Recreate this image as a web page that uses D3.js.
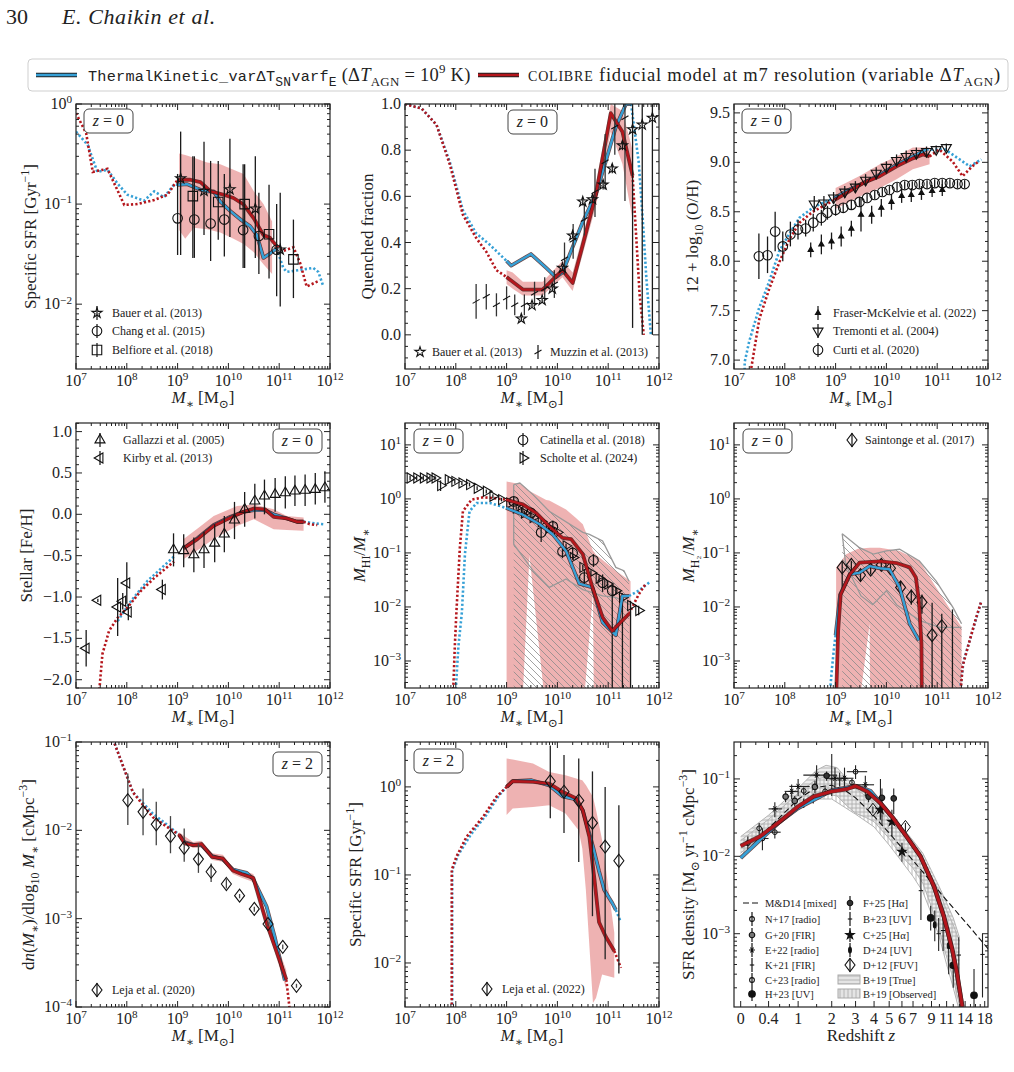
<!DOCTYPE html>
<html><head><meta charset="utf-8">
<script src="https://cdn.jsdelivr.net/npm/d3@7"></script>
<style>
body{margin:0;background:#fff;}
text{font-family:'Liberation Serif','DejaVu Serif',serif;fill:#222;}
</style></head><body>
<script>
// ---------------- data (x = log10 M*, unless noted) ----------------
// panel 1: specific SFR, z=0
var ssfrBlueDot = [[7.0,0.53],[7.23,0.39],[7.42,0.21],[7.62,0.22],[7.82,0.16],[8.01,0.124],[8.34,0.108],[8.54,0.134],[8.73,0.117],[8.93,0.156],[9.0,0.156]];
var ssfrBlue = [[9.0,0.156],[9.19,0.158],[9.45,0.139],[9.58,0.134],[9.71,0.134],[9.84,0.106],[10.04,0.085],[10.24,0.07],[10.43,0.06],[10.56,0.049],[10.69,0.029],[10.82,0.032],[10.95,0.036]];
var ssfrBlueDot2 = [[10.95,0.036],[11.08,0.023],[11.15,0.021],[11.67,0.023],[11.77,0.021],[11.87,0.015]];
var ssfrRedDot = [[7.0,0.81],[7.2,0.51],[7.33,0.21],[7.62,0.225],[7.95,0.098],[8.21,0.1],[8.54,0.11],[8.8,0.124],[9.0,0.175]];
var ssfrRed = [[9.0,0.175],[9.25,0.175],[9.45,0.166],[9.65,0.134],[9.91,0.124],[10.1,0.115],[10.3,0.099],[10.5,0.072],[10.69,0.049],[10.82,0.046],[10.95,0.038]];
var ssfrRedDot2 = [[10.95,0.038],[11.08,0.034],[11.28,0.037],[11.41,0.026],[11.54,0.015],[11.77,0.017]];
var ssfrBand = [[9.03,0.32,0.055],[9.15,0.31,0.045],[9.32,0.29,0.058],[9.58,0.26,0.056],[9.84,0.25,0.052],[10.1,0.22,0.045],[10.3,0.2,0.04],[10.5,0.134,0.033],[10.69,0.1,0.025],[10.86,0.067,0.02]];
var bauerSsfr = [[9.06,0.18,0.031,0.53],[9.52,0.135,0.049,0.42],[10.03,0.14,0.047,0.45],[10.53,0.09,0.029,0.30],[11.02,0.035,0.0095,0.13]];
var changSsfr = [[9.0,0.072,0.031,0.2],[9.33,0.07,0.029,0.3],[9.65,0.064,0.027,0.27],[9.92,0.07,0.03,0.2],[10.29,0.055,0.023,0.25],[10.6,0.048,0.02,0.13],[10.95,0.035,0.012,0.1]];
var belfioreSsfr = [[9.3,0.12,0.029,0.3],[9.8,0.105,0.044,0.27],[10.32,0.1,0.023,0.25],[10.8,0.05,0.018,0.156],[11.28,0.028,0.0115,0.07]];

// panel 2: quenched fraction, z=0
var qfBlueDot = [[7.0,1.0],[7.33,0.98],[7.62,0.91],[7.88,0.75],[8.14,0.54],[8.4,0.44],[8.67,0.39],[9.0,0.32]];
var qfBlue = [[9.0,0.32],[9.09,0.3],[9.48,0.35],[9.78,0.29],[9.97,0.25],[10.1,0.27],[10.3,0.38],[10.5,0.49],[10.76,0.61],[10.95,0.75],[11.15,0.9],[11.35,1.0],[11.45,1.0]];
var qfBlueDot2 = [[11.45,1.0],[11.6,0.75],[11.68,0.5],[11.75,0.25],[11.84,0.0]];
var qfRedDot = [[7.0,1.0],[7.33,0.98],[7.62,0.91],[7.88,0.74],[8.14,0.52],[8.4,0.42],[8.6,0.36],[8.8,0.28],[9.0,0.25]];
var qfRed = [[9.0,0.25],[9.12,0.23],[9.32,0.196],[9.71,0.196],[10.1,0.28],[10.3,0.225],[10.5,0.39],[10.76,0.61],[11.05,0.96],[11.28,0.88],[11.48,0.69]];
var qfRedDot2 = [[11.48,0.69],[11.55,0.43],[11.62,0.17],[11.7,0.0]];
var qfBand = [[9.0,0.28,0.22],[9.12,0.27,0.2],[9.32,0.23,0.17],[9.71,0.23,0.17],[10.1,0.32,0.25],[10.3,0.27,0.19],[10.5,0.43,0.35],[10.76,0.66,0.56],[11.05,1.0,0.88],[11.28,0.97,0.74],[11.48,0.8,0.5]];
var bauerQf = [[9.29,0.07,0.06,0.08],[9.5,0.128,0.12,0.14],[9.7,0.15,0.14,0.16],[9.9,0.2,0.19,0.21],[10.1,0.29,0.28,0.3],[10.3,0.43,0.42,0.44],[10.5,0.577,0.56,0.59],[10.69,0.587,0.57,0.6],[10.9,0.65,0.63,0.67],[11.08,0.72,0.7,0.74],[11.28,0.82,0.8,0.84],[11.48,0.89,0.03,1.05],[11.67,0.91,0.0,1.05],[11.87,0.94,0.0,1.05]];
var muzzinQf = [[8.4,0.145,0.07,0.22],[8.6,0.167,0.11,0.22],[8.8,0.13,0.08,0.18],[9.0,0.16,0.11,0.21],[9.16,0.13,0.085,0.175],[9.35,0.13,0.085,0.175],[9.55,0.18,0.13,0.23],[9.75,0.2,0.15,0.25],[9.94,0.22,0.16,0.28],[10.14,0.33,0.26,0.4],[10.31,0.41,0.33,0.48],[10.53,0.5,0.43,0.57],[10.74,0.62,0.51,0.72],[10.94,0.75,0.63,0.87],[11.13,0.9,0.78,1.0],[11.33,0.94,0.58,1.0]];

// panel 3: gas metallicity 12+log(O/H), z=0
var ohBlueDot = [[7.21,6.9],[7.21,6.98],[7.3,7.19],[7.49,7.52],[7.69,7.79],[7.89,8.1],[8.08,8.27],[8.29,8.44],[8.55,8.54],[8.75,8.59],[8.98,8.64]];
var ohBlue = [[8.98,8.64],[9.21,8.71],[9.54,8.79],[9.87,8.875],[10.2,8.976],[10.52,9.06],[10.79,9.13]];
var ohBlueDot2 = [[10.79,9.13],[11.16,9.13],[11.44,9.03],[11.64,8.96],[11.87,9.03]];
var ohRedDot = [[7.34,6.92],[7.5,7.42],[7.7,7.73],[7.9,8.0],[8.1,8.23],[8.29,8.39],[8.55,8.5],[8.98,8.62]];
var ohRed = [[8.98,8.62],[9.21,8.69],[9.54,8.79],[9.87,8.86],[10.2,8.96],[10.52,9.04],[10.72,9.08],[10.85,9.06]];
var ohRedDot2 = [[10.85,9.06],[11.04,9.13],[11.3,9.01],[11.5,8.86],[11.69,8.96],[11.82,9.01]];
var ohBand = [[9.0,8.74,8.53],[9.2,8.79,8.58],[9.5,8.87,8.66],[9.87,8.98,8.74],[10.2,9.06,8.83],[10.52,9.15,8.93],[10.85,9.15,8.98]];
var fraserOh = [[8.51,8.115,8.04,8.19],[8.72,8.17,8.07,8.27],[8.92,8.2,8.12,8.29],[9.11,8.25,8.15,8.35],[9.31,8.33,8.25,8.41],[9.5,8.47,8.3,8.64],[9.71,8.47,8.38,8.56],[9.9,8.54,8.45,8.63],[10.1,8.6,8.52,8.68],[10.3,8.66,8.59,8.73],[10.49,8.67,8.6,8.74],[10.69,8.69,8.62,8.76],[10.9,8.71,8.65,8.77],[11.1,8.72,8.66,8.78]];
var tremontiOh = [[8.58,8.58,8.5,8.66],[8.77,8.59,8.52,8.66],[8.96,8.64,8.58,8.7],[9.18,8.7,8.64,8.76],[9.39,8.75,8.69,8.81],[9.59,8.82,8.76,8.88],[9.8,8.89,8.83,8.95],[10.0,8.95,8.89,9.01],[10.2,9.02,8.96,9.08],[10.39,9.06,9.0,9.12],[10.59,9.09,9.03,9.15],[10.79,9.11,9.06,9.16],[10.98,9.13,9.09,9.17],[11.18,9.15,9.11,9.19]];
var curtiOh = [[7.49,8.05,7.82,8.28],[7.66,8.06,7.88,8.25],[7.81,8.3,8.1,8.5],[7.96,8.15,8.0,8.3],[8.11,8.27,8.15,8.4],[8.26,8.32,8.22,8.42],[8.41,8.33,8.25,8.42],[8.56,8.39,8.3,8.48],[8.72,8.44,8.36,8.52],[8.84,8.49,8.42,8.56],[9.0,8.52,8.46,8.58],[9.15,8.54,8.49,8.59],[9.31,8.57,8.52,8.62],[9.47,8.6,8.55,8.65],[9.62,8.64,8.6,8.68],[9.77,8.67,8.63,8.71],[9.92,8.7,8.66,8.74],[10.06,8.72,8.68,8.76],[10.21,8.75,8.71,8.79],[10.36,8.77,8.73,8.81],[10.51,8.77,8.73,8.81],[10.65,8.78,8.74,8.82],[10.8,8.78,8.74,8.82],[10.95,8.79,8.75,8.83],[11.1,8.79,8.75,8.83],[11.25,8.79,8.75,8.83],[11.4,8.78,8.74,8.82],[11.54,8.78,8.74,8.82]];

// panel 4: stellar [Fe/H], z=0
var feBlueDot = [[7.82,-1.29],[8.08,-1.05],[8.4,-0.81],[8.93,-0.51]];
var feRedDot = [[7.46,-2.12],[7.52,-1.69],[7.65,-1.41],[7.82,-1.25],[8.01,-1.13],[8.27,-0.93],[8.54,-0.77],[8.93,-0.57]];
var feBlue = [[9.12,-0.41],[9.39,-0.29],[9.71,-0.13],[10.04,-0.03],[10.3,0.03],[10.5,0.05],[10.72,0.05],[10.89,0.0],[11.15,-0.05],[11.35,-0.09],[11.48,-0.09]];
var feRed = [[9.12,-0.41],[9.39,-0.3],[9.71,-0.14],[10.04,-0.04],[10.3,0.03],[10.5,0.07],[10.72,0.06],[10.89,-0.03],[11.15,-0.05],[11.35,-0.09],[11.48,-0.09]];
var feBlueDot2 = [[11.48,-0.09],[11.7,-0.11],[11.87,-0.12]];
var feRedDot2 = [[11.48,-0.09],[11.6,-0.12],[11.75,-0.13]];
var feBand = [[9.12,-0.3,-0.54],[9.4,-0.17,-0.43],[9.71,-0.02,-0.3],[10.17,0.1,-0.14],[10.5,0.12,-0.06],[10.89,0.06,-0.18],[11.15,-0.02,-0.19],[11.48,-0.04,-0.2]];
var gallazziFe = [[8.92,-0.43,-0.63,-0.23],[9.12,-0.44,-0.64,-0.24],[9.32,-0.49,-0.7,-0.28],[9.52,-0.43,-0.65,-0.21],[9.73,-0.35,-0.58,-0.12],[9.92,-0.24,-0.46,-0.02],[10.12,-0.07,-0.3,0.15],[10.32,0.06,-0.15,0.27],[10.52,0.16,-0.05,0.37],[10.71,0.22,0.0,0.42],[10.92,0.24,0.03,0.44],[11.12,0.26,0.07,0.46],[11.31,0.28,0.1,0.47],[11.51,0.29,0.1,0.48],[11.71,0.3,0.12,0.5],[11.9,0.32,0.14,0.52]];
var kirbyFe = [[7.2,-1.62,-1.84,-1.4],[7.43,-1.04,-1.06,-1.02],[7.82,-1.12,-1.47,-0.77],[7.92,-1.05,-1.15,-0.95],[8.0,-0.83,-1.08,-0.58],[8.03,-1.18,-1.28,-1.08],[8.7,-0.91,-1.03,-0.79]];

// panel 5: HI fraction, z=0
var hiBlueDot = [[8.0,3e-4],[8.05,0.0018],[8.12,0.008],[8.18,0.095],[8.27,0.59],[8.41,0.84],[8.67,0.84],[8.99,0.68]];
var hiBlue = [[8.99,0.68],[9.32,0.51],[9.65,0.34],[9.91,0.22],[10.17,0.109],[10.43,0.027],[10.69,0.023],[10.89,0.0052],[11.15,0.003],[11.28,0.016],[11.41,0.016]];
var hiBlueDot2 = [[11.41,0.016],[11.6,0.02],[11.84,0.03]];
var hiRedDot = [[7.95,3e-4],[7.98,0.0018],[8.01,0.0074],[8.08,0.126],[8.14,0.59],[8.31,0.97],[8.54,1.07],[8.73,1.04],[8.99,0.97]];
var hiRed = [[8.99,0.97],[9.32,0.79],[9.58,0.55],[9.84,0.31],[10.1,0.19],[10.27,0.18],[10.5,0.095],[10.69,0.023],[10.89,0.0064],[11.08,0.0036],[11.41,0.0075]];
var hiRedDot2 = [[11.41,0.0075],[11.6,0.017],[11.74,0.027]];
var hiBand = [[9.0,2.1,1e-4],[9.3,1.84,1e-4],[9.45,1.4,0.09],[9.78,0.95,1e-4],[9.84,0.93,1e-4],[10.17,0.64,1e-4],[10.36,0.45,1e-4],[10.5,0.34,1e-4],[10.7,0.11,0.018],[10.72,0.105,1e-4],[10.75,0.095,1e-4],[11.15,0.047,1e-4],[11.44,0.03,1e-4]];
var hiHatch = [[9.14,1.84,1e-4],[9.26,1.97,1e-4],[9.52,1.2,1e-4],[9.84,0.59,1e-4],[10.5,0.24,1e-4],[10.63,0.22,1e-4],[10.89,0.166,1e-4],[11.15,0.054,1e-4],[11.31,0.047,1e-4],[11.41,0.03,1e-4]];
var hiHatchLow = [[9.14,1.84],[9.14,0.145],[9.52,0.047],[9.84,0.023],[10.17,0.033],[10.5,0.021],[10.89,0.016],[11.15,0.015],[11.44,0.011]];
var catinellaHi = [[9.14,0.9,0.75,1.08],[9.32,0.64,0.52,0.78],[9.48,0.55,0.45,0.67],[9.68,0.24,0.16,0.34],[9.91,0.31,0.24,0.4],[10.1,0.106,0.08,0.14],[10.3,0.1,0.075,0.13],[10.53,0.035,0.025,0.05],[10.71,0.073,0.055,0.095],[10.89,0.028,0.019,0.04],[11.08,0.02,1e-4,0.028]];
var scholteHi = [[7.1,2.43,2.2,2.7],[7.23,2.43,2.2,2.7],[7.36,2.43,2.2,2.7],[7.49,2.43,2.2,2.7],[7.59,2.43,2.2,2.7],[7.7,1.76,1.4,2.2],[7.85,2.27,2.0,2.55],[7.98,2.11,1.9,2.35],[8.12,1.97,1.8,2.15],[8.27,1.84,1.7,2.0],[8.42,1.58,1.45,1.72],[8.6,1.38,1.26,1.5],[8.73,1.12,1.02,1.22],[8.9,0.97,0.9,1.05],[9.06,0.84,0.78,0.9],[9.19,0.68,0.63,0.73],[9.35,0.55,0.51,0.6],[9.52,0.45,0.42,0.49],[9.68,0.38,0.35,0.41],[9.84,0.29,0.27,0.31],[10.0,0.24,0.22,0.26],[10.17,0.135,0.12,0.15],[10.31,0.082,0.074,0.09],[10.5,0.054,0.048,0.06],[10.66,0.043,0.038,0.048],[10.82,0.034,0.03,0.038],[10.99,0.0265,0.023,0.03],[11.15,0.02,0.017,0.023],[11.28,0.015,1e-4,0.018],[11.44,0.0106,1e-4,0.013],[11.6,0.0086,0.007,0.0105]];

// panel 6: H2 fraction, z=0
var h2BlueDot = [[8.88,2e-4],[8.92,6e-4],[8.97,0.0018],[9.0,0.003]];
var h2Blue = [[9.0,0.003],[9.09,0.017],[9.28,0.04],[9.47,0.043],[9.67,0.057],[9.87,0.052],[10.06,0.05],[10.26,0.023],[10.46,0.0048],[10.64,0.0024]];
var h2BlueDot2 = [[11.43,2e-4],[11.52,0.001],[11.67,0.003],[11.86,0.012]];
var h2Red = [[9.0,1e-4],[9.05,0.0037],[9.1,0.017],[9.28,0.04],[9.47,0.066],[9.87,0.07],[10.2,0.065],[10.46,0.054],[10.58,0.035],[10.64,0.013],[10.69,0.0021],[10.7,1e-4]];
var h2RedDot2 = [[11.45,2e-4],[11.5,8e-4],[11.64,0.0024],[11.77,0.0065],[11.86,0.012]];
var h2Band = [[9.01,0.054,1e-4],[9.21,0.095,1e-4],[9.44,0.12,1e-4],[9.67,0.125,0.0049],[9.68,0.125,1e-4],[9.87,0.125,1e-4],[10.26,0.109,1e-4],[10.65,0.071,1e-4],[10.98,0.023,1e-4],[11.31,0.0075,1e-4],[11.48,0.0042,1e-4]];
var h2Hatch = [[9.13,0.227,1e-4],[9.47,0.125,1e-4],[9.74,0.095,1e-4],[10.0,0.109,1e-4],[10.26,0.117,1e-4],[10.65,0.071,1e-4],[10.98,0.03,1e-4],[11.31,0.0098,1e-4],[11.48,0.0049,1e-4]];
var h2HatchLow = [[9.13,0.227],[9.2,0.06],[9.5,0.016],[9.73,0.011],[10.0,0.02],[10.2,0.011],[10.66,0.0056],[11.05,0.0042],[11.48,0.0042]];
var saintongeH2 = [[9.13,0.054,0.02,0.071],[9.31,0.06,0.045,0.072],[9.49,0.039,0.03,0.05],[9.69,0.049,0.04,0.058],[9.9,0.06,0.05,0.07],[10.08,0.052,0.043,0.062],[10.28,0.023,0.017,0.03],[10.49,0.0155,0.011,0.021],[10.7,0.0122,0.0075,0.017],[10.9,0.003,1e-4,0.012],[11.09,0.0044,1e-4,0.0075],[11.3,1e-4,1e-4,0.009]];

// panel 7: stellar mass function, z=2
var smfBlueDot = [[7.76,0.096],[8.12,0.027],[8.51,0.0155],[8.84,0.011],[9.03,0.0089]];
var smfRedDot = [[7.76,0.096],[8.12,0.027],[8.51,0.0141],[8.84,0.0105],[9.03,0.0089]];
var smfBlue = [[9.03,0.0089],[9.14,0.0073],[9.3,0.0069],[9.47,0.0068],[9.68,0.0051],[9.89,0.0047],[10.09,0.0036],[10.36,0.0033],[10.49,0.0028],[10.75,0.00138],[10.91,0.00063],[11.11,0.0002]];
var smfRed = [[9.03,0.0089],[9.14,0.0071],[9.3,0.0068],[9.47,0.007],[9.68,0.005],[9.89,0.0048],[10.09,0.0035],[10.26,0.0032],[10.49,0.0029],[10.75,0.00089],[10.91,0.00049],[11.14,0.000204]];
var smfRedDot2 = [[11.14,0.000204],[11.21,9e-5]];
var smfBand = [[9.03,0.0095,0.0083],[9.3,0.0074,0.0063],[9.47,0.0076,0.0064],[9.68,0.0055,0.0046],[9.89,0.0053,0.0044],[10.09,0.0038,0.0032],[10.26,0.0035,0.0029],[10.49,0.0032,0.0026],[10.75,0.0011,0.0008],[10.91,0.0006,0.00042],[11.14,0.00026,0.00016]];
var lejaSmf = [[8.02,0.0219,0.0115,0.044],[8.32,0.0162,0.0088,0.0297],[8.58,0.0117,0.0068,0.021],[8.86,0.0086,0.0055,0.0145],[9.13,0.00635,0.0044,0.0105],[9.41,0.00473,0.0033,0.0071],[9.66,0.0034,0.0026,0.0042],[9.96,0.00247,0.0022,0.0028],[10.22,0.00182,0.0017,0.0019],[10.51,0.00129,0.0012,0.00136],[10.78,0.00087,0.00082,0.00092],[11.07,0.00048,0.00045,0.00051],[11.34,0.000174,0.000165,0.000183]];

// panel 8: specific SFR, z=2
var ssfr2BlueDot = [[7.93,0.003],[7.93,0.114],[8.05,0.17],[8.3,0.29],[8.6,0.48],[8.85,0.8],[9.0,1.0]];
var ssfr2RedDot = [[7.92,0.003],[7.92,0.114],[8.01,0.16],[8.21,0.27],[8.54,0.46],[8.8,0.77],[9.0,1.0]];
var ssfr2Blue = [[9.0,1.0],[9.12,1.16],[9.49,1.19],[9.84,1.04],[10.1,0.78],[10.37,0.72],[10.5,0.54],[10.7,0.21],[10.82,0.11],[10.92,0.068],[11.08,0.048],[11.15,0.04]];
var ssfr2BlueDot2 = [[11.15,0.04],[11.25,0.029]];
var ssfr2Red = [[9.0,1.0],[9.12,1.16],[9.52,1.14],[9.84,1.09],[10.1,0.88],[10.37,0.74],[10.5,0.54],[10.63,0.27],[10.73,0.088],[10.82,0.029],[10.95,0.02],[11.12,0.0137]];
var ssfr2RedDot2 = [[11.12,0.0137],[11.25,0.0088]];
var ssfr2Band = [[9.0,2.1,0.48],[9.12,2.05,0.57],[9.52,1.84,0.59],[9.84,1.48,0.62],[10.16,1.36,0.5],[10.42,1.22,0.32],[10.49,1.19,0.2],[10.56,1.05,0.068],[10.7,0.77,0.0035],[10.76,0.55,0.004],[10.88,0.25,0.0074],[11.12,0.022,0.0068]];
var lejaSsfr = [[9.86,1.16,0.44,2.96],[10.13,0.88,0.3,2.3],[10.42,0.7,0.14,2.1],[10.69,0.39,0.034,1.5],[10.94,0.21,0.011,1.0],[11.21,0.145,0.0076,0.62]];

// panel 9: cosmic SFR density vs redshift z
var sfrdZTicks = [0,0.4,1,2,3,4,5,6,7,9,11,14,18];
var sfrdBlue = [[0,0.0095],[0.21,0.0148],[0.6,0.028],[1.0,0.042],[2.0,0.071],[3.0,0.081],[3.78,0.07],[4.4,0.049],[5.3,0.031],[6.4,0.018],[7.75,0.01],[9.3,0.0041],[10.6,0.0017],[11.85,0.00062],[12.6,0.0003],[13.5,0.000115]];
var sfrdRed = [[0,0.0136],[0.26,0.018],[0.6,0.028],[1.0,0.044],[1.4,0.059],[2.0,0.069],[2.6,0.074],[3.0,0.081],[3.6,0.069],[4.4,0.0485],[5.3,0.031],[6.4,0.018],[7.75,0.01],[9.3,0.0041],[10.6,0.00167],[11.85,0.00062],[12.6,0.00031],[13.5,0.000113]];
var md14Z = [0,0.4,1,1.5,2,2.5,3,4,5,6,7,8,9,11,14,18,19];
var md14Sfrd = [0.0095,0.023,0.0546,0.078,0.083,0.072,0.057,0.033,0.02,0.0129,0.0088,0.0063,0.0046,0.0027,0.00143,0.00072,0.00062];
var b19True = [[0,0.018,0.011],[0.4,0.034,0.022],[1,0.076,0.045],[1.5,0.13,0.06],[1.8,0.15,0.065],[2.2,0.14,0.06],[2.6,0.1,0.045],[3,0.085,0.036],[3.5,0.07,0.032],[4,0.058,0.028],[5,0.036,0.017],[6,0.024,0.01],[7,0.016,0.007],[8,0.011,0.0045],[9,0.0065,0.0022],[10,0.004,0.0011],[11,0.0025,0.0005],[12,0.0016,0.00026],[13,0.0009,0.00012]];
var b19Obs = [[0,0.016,0.01],[0.4,0.03,0.02],[1,0.065,0.04],[1.5,0.1,0.055],[2,0.11,0.055],[3,0.075,0.035],[4,0.05,0.024],[5,0.03,0.014],[6,0.02,0.0085],[7,0.013,0.0055],[8,0.009,0.0035],[9,0.0055,0.0018],[10,0.0035,0.0009],[11,0.002,0.0004],[12,0.0013,0.0002],[13,0.0008,0.0001]];
// [z, sfrd, lo, hi, zlo, zhi]
var n17 = [[0.3,0.017,0.012,0.023,0.2,0.4],[0.51,0.0205,0.017,0.025,0.42,0.62],[3.0,0.124,0.1,0.15,2.6,3.6]];
var g20 = [[0.72,0.059,0.05,0.068],[0.92,0.052,0.044,0.06],[1.45,0.079,0.065,0.095]];
var e22 = [[0.51,0.041,0.032,0.05,0.4,0.65],[0.85,0.069,0.055,0.085,0.7,1.0],[1.0,0.08,0.06,0.1,0.8,1.3],[1.5,0.112,0.08,0.15,1.13,2.2],[2.12,0.102,0.07,0.14,1.8,2.5],[2.5,0.102,0.07,0.14,2.2,2.9],[3.5,0.084,0.06,0.11,3.0,4.0]];
var k21 = [[1.14,0.049,0.042,0.056],[1.4,0.056,0.048,0.065],[2.0,0.1,0.06,0.21],[2.3,0.097,0.08,0.12],[4.4,0.057,0.03,0.1]];
var c23 = [[0.09,0.0148,0.012,0.018],[0.25,0.023,0.019,0.027],[1.14,0.07,0.062,0.078],[1.77,0.069,0.06,0.078],[2.83,0.09,0.08,0.1]];
var h23 = [[8.9,0.0016,0.0011,0.0023],[12.0,0.00039,0.0002,0.0006],[15.7,0.00016,0.00008,0.00035]];
var f25 = [[1.82,0.11,0.095,0.125],[3.68,0.059,0.05,0.07],[4.5,0.057,0.025,0.075],[5.34,0.056,0.035,0.075]];
var b23 = [[7.8,0.0036,0.0015,0.0065],[9.9,0.001,0.0006,0.0016],[10.5,0.0011,0.0006,0.0018],[12.9,0.00053,0.0002,0.0009],[17.5,0.00054,0.00015,0.001]];
var c25 = [[4.4,0.04,0.03,0.05],[5.2,0.028,0.018,0.04],[6.0,0.0115,0.0085,0.015]];
var d24 = [[9.4,0.0013,0.0008,0.002],[11.3,0.0007,0.0003,0.0012]];
var d12 = [[3.93,0.04,0.036,0.044],[6.3,0.024,0.021,0.027]];

// ---------------- layout ----------------
var BLUE = "#36a0d6", RED = "#b5161c", BAND = "#eba4a4";
var mono = "'Liberation Mono','DejaVu Sans Mono',monospace";
var PW = 254, PH = 265;
var colX = [76, 405, 734], rowY = [104, 423, 742];

var svg = d3.select("body").append("svg").attr("width", 1014).attr("height", 1072);
var defs = svg.append("defs");

function hatch(id, path, size, col) {
  defs.append("pattern").attr("id", id).attr("patternUnits", "userSpaceOnUse")
    .attr("width", size).attr("height", size)
    .append("path").attr("d", path).attr("stroke", col).attr("stroke-width", 0.8).attr("fill", "none");
}
hatch("diag", "M0,0 L7,7 M-1,6 L1,8 M6,-1 L8,1", 7, "#8a8a8a");
hatch("horiz", "M0,2 L4,2", 4, "#a8a8a8");
hatch("vert", "M2,0 L2,4", 4, "#a8a8a8");

// rich text: parts {t, i:italic, s:'sub'|'sup', m:mono, f:font-size}
function rich(sel, fs, parts) {
  var cur = 0;
  parts.forEach(function(p) {
    var sh = p.s == "sub" ? fs * 0.28 : (p.s == "sup" ? -fs * 0.42 : 0);
    var ts = sel.append("tspan").attr("dy", sh - cur).text(p.t);
    cur = sh;
    if (p.s) ts.attr("font-size", fs * 0.7);
    if (p.i) ts.attr("font-style", "italic");
    if (p.m) ts.attr("font-family", mono);
    if (p.f) ts.attr("font-size", p.f);
  });
}

function makePanel(c, r, ys, xf) {
  var g = svg.append("g").attr("transform", "translate(" + colX[c] + "," + rowY[r] + ")");
  var id = "clip" + c + r;
  defs.append("clipPath").attr("id", id).append("rect").attr("width", PW).attr("height", PH);
  var P = { g: g, ys: ys };
  P.plot = g.append("g").attr("clip-path", "url(#" + id + ")");
  P.X = xf;
  P.Y = function(v) { return ys(v); };
  return P;
}

var massScale = d3.scaleLog().domain([1e7, 1e12]).range([0, PW]);
function massX(v) { return massScale(Math.pow(10, v)); }
var zScale = d3.scaleLinear().domain([-0.035, 1.296]).range([0, PW]);
function zX(v) { return zScale(Math.log10(1 + v)); }

function powLabel(sel, e) {
  sel.text("10");
  sel.append("tspan").attr("dy", "-0.5em").attr("font-size", "0.7em").text(e < 0 ? "\u2212" + (-e) : e);
}

function logTicks(domain) {
  var major = [], minor = [];
  var lo = Math.min(domain[0], domain[1]), hi = Math.max(domain[0], domain[1]);
  for (var e = Math.floor(Math.log10(lo)); e <= Math.ceil(Math.log10(hi)); e++) {
    var b = Math.pow(10, e);
    if (b >= lo * 0.999 && b <= hi * 1.001) major.push(e);
    for (var k = 2; k < 10; k++) { if (k * b >= lo && k * b <= hi) minor.push(k * b); }
  }
  return { major: major, minor: minor };
}

// ticks on all four sides, pointing in
function drawAxes(P, xt, yt) {
  var g = P.g;
  g.append("rect").attr("width", PW).attr("height", PH).attr("fill", "none").attr("stroke", "#222").attr("stroke-width", 1.2);
  var tk = g.append("g").attr("stroke", "#222").attr("stroke-width", 1);
  xt.major.forEach(function(t) {
    var x = t.x;
    tk.append("line").attr("x1", x).attr("x2", x).attr("y1", PH).attr("y2", PH - 6);
    tk.append("line").attr("x1", x).attr("x2", x).attr("y1", 0).attr("y2", 6);
    var lab = g.append("text").attr("x", x).attr("y", PH + 17).attr("text-anchor", "middle").attr("font-size", 16);
    if (t.e !== undefined) powLabel(lab, t.e); else lab.text(t.label);
  });
  xt.minor.forEach(function(x) {
    tk.append("line").attr("x1", x).attr("x2", x).attr("y1", PH).attr("y2", PH - 3);
    tk.append("line").attr("x1", x).attr("x2", x).attr("y1", 0).attr("y2", 3);
  });
  yt.major.forEach(function(t) {
    var y = t.y;
    tk.append("line").attr("x1", 0).attr("x2", 6).attr("y1", y).attr("y2", y);
    tk.append("line").attr("x1", PW).attr("x2", PW - 6).attr("y1", y).attr("y2", y);
    var lab = g.append("text").attr("x", -4).attr("y", y + 5).attr("text-anchor", "end").attr("font-size", 16);
    if (t.e !== undefined) powLabel(lab, t.e); else lab.text(t.label);
  });
  yt.minor.forEach(function(y) {
    tk.append("line").attr("x1", 0).attr("x2", 3).attr("y1", y).attr("y2", y);
    tk.append("line").attr("x1", PW).attr("x2", PW - 3).attr("y1", y).attr("y2", y);
  });
}

function massTicks() {
  var t = logTicks(massScale.domain());
  return { major: t.major.map(function(e) { return { x: massScale(Math.pow(10, e)), e: e }; }),
           minor: t.minor.map(function(v) { return massScale(v); }) };
}
function logYTicks(ys) {
  var t = logTicks(ys.domain());
  return { major: t.major.map(function(e) { return { y: ys(Math.pow(10, e)), e: e }; }),
           minor: t.minor.map(function(v) { return ys(v); }) };
}
function linYTicks(ys, step, minorStep) {
  var d = ys.domain(), major = [], minor = [];
  d3.range(Math.ceil(d[0] / step - 1e-6) * step, d[1] + 1e-6, step).forEach(function(v) {
    major.push({ y: ys(v), label: d3.format(".1f")(v) });
  });
  d3.range(Math.ceil(d[0] / minorStep - 1e-6) * minorStep, d[1] + 1e-6, minorStep).forEach(function(v) {
    if (Math.abs(v / step - Math.round(v / step)) > 1e-6) minor.push(ys(v));
  });
  return { major: major, minor: minor };
}

function xLabel(P, parts) {
  rich(P.g.append("text").attr("x", PW / 2).attr("y", PH + 34).attr("text-anchor", "middle").attr("font-size", 17), 17, parts);
}
function yLabel(P, dx, parts) {
  rich(P.g.append("text").attr("transform", "translate(" + dx + "," + (PH / 2) + ") rotate(-90)")
    .attr("text-anchor", "middle").attr("font-size", 17), 17, parts);
}
var massLabel = [{ t: "M", i: 1 }, { t: "\u2217", s: "sub" }, { t: " [M" }, { t: "\u2299", s: "sub" }, { t: "]" }];

function zBox(P, x, y, zt) {
  var b = P.g.append("g").attr("transform", "translate(" + x + "," + y + ")");
  b.append("rect").attr("width", 49).attr("height", 24).attr("rx", 5).attr("fill", "#fff").attr("stroke", "#444").attr("stroke-width", 1);
  rich(b.append("text").attr("x", 24.5).attr("y", 17).attr("text-anchor", "middle").attr("font-size", 16), 16,
    [{ t: "z", i: 1 }, { t: " = " + zt }]);
}

function lineGen(P) { return d3.line().x(function(d) { return P.X(d[0]); }).y(function(d) { return P.Y(d[1]); }); }
function solid(P, data, col, w) {
  w = w || 2.4;
  P.plot.append("path").datum(data).attr("d", lineGen(P)).attr("fill", "none")
    .attr("stroke", "#3a0a0a").attr("stroke-opacity", 0.75).attr("stroke-width", w + 1.4).attr("stroke-linejoin", "round");
  P.plot.append("path").datum(data).attr("d", lineGen(P)).attr("fill", "none")
    .attr("stroke", col).attr("stroke-width", w).attr("stroke-linejoin", "round");
}
function dotted(P, data, col) {
  P.plot.append("path").datum(data).attr("d", lineGen(P)).attr("fill", "none")
    .attr("stroke", col).attr("stroke-width", 2.6).attr("stroke-dasharray", "2.2,2.2");
}
function band(P, data, fill, op) {
  P.plot.append("path").datum(data)
    .attr("d", d3.area().x(function(d) { return P.X(d[0]); }).y0(function(d) { return P.Y(d[2]); }).y1(function(d) { return P.Y(d[1]); }))
    .attr("fill", fill).attr("fill-opacity", op === undefined ? 0.85 : op);
}

// marker shapes centred on 0,0
function tri(r, ang) {
  var pts = [0, 1, 2].map(function(k) {
    var a = ang + k * 2 * Math.PI / 3;
    return [r * Math.cos(a), r * Math.sin(a)];
  });
  return "M" + pts.join("L") + "Z";
}
var SYM = {
  star: d3.symbol(d3.symbolStar, 32)(),
  starS: d3.symbol(d3.symbolStar, 22)(),
  circle: d3.symbol(d3.symbolCircle, 72)(),
  circleS: d3.symbol(d3.symbolCircle, 18)(),
  square: d3.symbol(d3.symbolSquare, 90)(),
  triUp: tri(5.8, -Math.PI / 2),
  triDown: tri(5.8, Math.PI / 2),
  triLeft: tri(5.8, Math.PI),
  triRight: tri(5.8, 0),
  smallUp: tri(3, -Math.PI / 2),
  diamond: "M0,-6.5L5,0L0,6.5L-5,0Z",
  tick: "M-3.5,2L3.5,-2",
  asterisk: "M-3,0L3,0M-1.5,-2.6L1.5,2.6M-1.5,2.6L1.5,-2.6",
  plus: "M-2.2,0L2.2,0",
  ellipse: "M0,-3A1.4,3 0 1,1 0,3A1.4,3 0 1,1 0,-3Z",
  bigDot: d3.symbol(d3.symbolCircle, 34)(),
  midDot: d3.symbol(d3.symbolCircle, 24)()
};

// data: [x, y, lo, hi, xlo, xhi]
function points(P, data, sym, o) {
  o = o || {};
  var g = P.plot.append("g");
  data.forEach(function(d) {
    var cx = P.X(d[0]), cy = P.Y(d[1]);
    if (d.length > 2) g.append("line").attr("x1", cx).attr("x2", cx).attr("y1", P.Y(d[2])).attr("y2", P.Y(d[3]))
      .attr("stroke", o.ecol || "#1a1a1a").attr("stroke-width", o.ew || 1.3);
    if (d.length > 4) g.append("line").attr("x1", P.X(d[4])).attr("x2", P.X(d[5])).attr("y1", cy).attr("y2", cy)
      .attr("stroke", o.ecol || "#1a1a1a").attr("stroke-width", o.ew || 1.3);
    g.append("path").attr("transform", "translate(" + cx + "," + cy + ")").attr("d", sym)
      .attr("fill", o.fill || "none").attr("stroke", o.stroke || "#111").attr("stroke-width", o.sw || 1.1);
  });
}
function legendEntry(P, x, y, sym, label, o, fs) {
  o = o || {};
  if (o.bar !== false) P.g.append("line").attr("x1", x).attr("x2", x).attr("y1", y - 7).attr("y2", y + 7).attr("stroke", "#111").attr("stroke-width", 1.2);
  P.g.append("path").attr("transform", "translate(" + x + "," + y + ")").attr("d", sym)
    .attr("fill", o.fill || "none").attr("stroke", o.stroke || "#111").attr("stroke-width", 1.1);
  P.g.append("text").attr("x", x + (o.dx || 15)).attr("y", y + 4).attr("font-size", fs || 12).attr("fill", "#444").text(label);
}

// ---------------- header and top legend ----------------
svg.append("text").attr("x", 6).attr("y", 24).attr("font-size", 22).text("30");
svg.append("text").attr("x", 62).attr("y", 24).attr("font-size", 22).attr("letter-spacing", 0.6).attr("font-style", "italic").text("E. Chaikin et al.");

var topLeg = svg.append("g");
topLeg.append("rect").attr("x", 28).attr("y", 59).attr("width", 980).attr("height", 32).attr("rx", 4)
  .attr("fill", "#fff").attr("stroke", "#cfcfcf");
[[36, BLUE], [478, RED]].forEach(function(s) {
  topLeg.append("line").attr("x1", s[0]).attr("x2", s[0] + 41).attr("y1", 75).attr("y2", 75).attr("stroke", "#222").attr("stroke-width", 4.4);
  topLeg.append("line").attr("x1", s[0]).attr("x2", s[0] + 41).attr("y1", 75).attr("y2", 75).attr("stroke", s[1]).attr("stroke-width", 2.6);
});
rich(topLeg.append("text").attr("x", 88).attr("y", 81).attr("font-size", 18.5).attr("letter-spacing", 0.25), 18.5, [
  { t: "ThermalKinetic_var\u0394T", m: 1, f: 15.2 }, { t: "SN", s: "sub", m: 1 }, { t: "varf", m: 1, f: 15.2 }, { t: "E", s: "sub", m: 1 },
  { t: " (\u0394" }, { t: "T", i: 1 }, { t: "AGN", s: "sub" }, { t: " = 10" }, { t: "9", s: "sup" }, { t: " K)" }]);
rich(topLeg.append("text").attr("x", 528).attr("y", 81).attr("font-size", 18.5).attr("letter-spacing", 0.8), 18.5, [
  { t: "COLIBRE", f: 14 }, { t: " fiducial model at m7 resolution (variable \u0394" }, { t: "T", i: 1 }, { t: "AGN", s: "sub" }, { t: ")" }]);

// ---------------- panel 1 ----------------
var P1 = makePanel(0, 0, d3.scaleLog().domain([2.25e-3, 1]).range([PH, 0]), massX);
band(P1, ssfrBand, BAND);
dotted(P1, ssfrBlueDot, BLUE); dotted(P1, ssfrBlueDot2, BLUE);
dotted(P1, ssfrRedDot, RED); dotted(P1, ssfrRedDot2, RED);
solid(P1, ssfrBlue, BLUE); solid(P1, ssfrRed, RED);
points(P1, bauerSsfr, SYM.star);
points(P1, changSsfr, SYM.circle);
points(P1, belfioreSsfr, SYM.square);
drawAxes(P1, massTicks(), logYTicks(P1.ys));
xLabel(P1, massLabel);
yLabel(P1, -40, [{ t: "Specific SFR [Gyr" }, { t: "\u22121", s: "sup" }, { t: "]" }]);
zBox(P1, 8, 5, "0");
legendEntry(P1, 21, 209, SYM.star, "Bauer et al. (2013)");
legendEntry(P1, 21, 227, SYM.circle, "Chang et al. (2015)");
legendEntry(P1, 21, 246, SYM.square, "Belfiore et al. (2018)");

// ---------------- panel 2 ----------------
var P2 = makePanel(1, 0, d3.scaleLinear().domain([-0.148, 1.0]).range([PH, 0]), massX);
band(P2, qfBand, BAND);
dotted(P2, qfBlueDot, BLUE); dotted(P2, qfBlueDot2, BLUE);
dotted(P2, qfRedDot, RED); dotted(P2, qfRedDot2, RED);
solid(P2, qfBlue, BLUE); solid(P2, qfRed, RED);
points(P2, muzzinQf, SYM.tick, { ecol: "#333" });
points(P2, bauerQf, SYM.star);
drawAxes(P2, massTicks(), linYTicks(P2.ys, 0.2, 0.05));
xLabel(P2, massLabel);
yLabel(P2, -32, [{ t: "Quenched fraction" }]);
zBox(P2, 103, 6, "0");
legendEntry(P2, 15, 248, SYM.star, "Bauer et al. (2013)", { bar: false, dx: 12 });
legendEntry(P2, 133, 248, SYM.tick, "Muzzin et al. (2013)", { dx: 12 });

// ---------------- panel 3 ----------------
var P3 = makePanel(2, 0, d3.scaleLinear().domain([6.91, 9.59]).range([PH, 0]), massX);
band(P3, ohBand, BAND);
dotted(P3, ohBlueDot, BLUE); dotted(P3, ohBlueDot2, BLUE);
dotted(P3, ohRedDot, RED); dotted(P3, ohRedDot2, RED);
solid(P3, ohBlue, BLUE); solid(P3, ohRed, RED);
points(P3, fraserOh, SYM.smallUp, { fill: "#111" });
points(P3, tremontiOh, SYM.triDown);
points(P3, curtiOh, SYM.circle);
drawAxes(P3, massTicks(), linYTicks(P3.ys, 0.5, 0.1));
xLabel(P3, massLabel);
yLabel(P3, -36, [{ t: "12 + log" }, { t: "10", s: "sub" }, { t: " (O/H)" }]);
zBox(P3, 8, 5, "0");
legendEntry(P3, 84, 209, SYM.smallUp, "Fraser-McKelvie et al. (2022)", { fill: "#111" });
legendEntry(P3, 84, 227, SYM.triDown, "Tremonti et al. (2004)");
legendEntry(P3, 84, 246, SYM.circle, "Curti et al. (2020)");

// ---------------- panel 4 ----------------
var P4 = makePanel(0, 1, d3.scaleLinear().domain([-2.1, 1.104]).range([PH, 0]), massX);
band(P4, feBand, BAND);
dotted(P4, feBlueDot, BLUE); dotted(P4, feRedDot, RED);
dotted(P4, feBlueDot2, BLUE); dotted(P4, feRedDot2, RED);
solid(P4, feBlue, BLUE); solid(P4, feRed, RED);
points(P4, gallazziFe, SYM.triUp);
points(P4, kirbyFe, SYM.triLeft);
drawAxes(P4, massTicks(), linYTicks(P4.ys, 0.5, 0.1));
xLabel(P4, massLabel);
yLabel(P4, -44, [{ t: "Stellar [Fe/H]" }]);
zBox(P4, 197, 6, "0");
legendEntry(P4, 24, 17, SYM.triUp, "Gallazzi et al. (2005)", { dx: 23 });
legendEntry(P4, 24, 35, SYM.triLeft, "Kirby et al. (2013)", { dx: 23 });

// ---------------- panel 5 ----------------
var gasY = function() { return d3.scaleLog().domain([Math.pow(10, -3.5), Math.pow(10, 1.405)]).range([PH, 0]); };
var P5 = makePanel(1, 1, gasY(), massX);
band(P5, hiBand, BAND);
band(P5, hiHatch, "url(#diag)", 1);
P5.plot.append("path").datum(hiHatch).attr("d", lineGen(P5)).attr("fill", "none").attr("stroke", "#999").attr("stroke-width", 1.3);
P5.plot.append("path").datum(hiHatchLow).attr("d", lineGen(P5)).attr("fill", "none").attr("stroke", "#999").attr("stroke-width", 1.3);
dotted(P5, hiBlueDot, BLUE); dotted(P5, hiBlueDot2, BLUE);
dotted(P5, hiRedDot, RED); dotted(P5, hiRedDot2, RED);
points(P5, scholteHi, SYM.triRight);
points(P5, catinellaHi, SYM.circle);
solid(P5, hiBlue, BLUE); solid(P5, hiRed, RED);
drawAxes(P5, massTicks(), logYTicks(P5.ys));
xLabel(P5, massLabel);
yLabel(P5, -40, [{ t: "M", i: 1 }, { t: "HI", s: "sub" }, { t: "/" }, { t: "M", i: 1 }, { t: "\u2217", s: "sub" }]);
zBox(P5, 9, 6, "0");
legendEntry(P5, 118, 17, SYM.circle, "Catinella et al. (2018)", { dx: 17 });
legendEntry(P5, 118, 35, SYM.triRight, "Scholte et al. (2024)", { dx: 17 });

// ---------------- panel 6 ----------------
var P6 = makePanel(2, 1, gasY(), massX);
band(P6, h2Band, BAND);
band(P6, h2Hatch, "url(#diag)", 1);
P6.plot.append("path").datum(h2Hatch).attr("d", lineGen(P6)).attr("fill", "none").attr("stroke", "#999").attr("stroke-width", 1.3);
P6.plot.append("path").datum(h2HatchLow).attr("d", lineGen(P6)).attr("fill", "none").attr("stroke", "#999").attr("stroke-width", 1.3);
dotted(P6, h2BlueDot, BLUE); dotted(P6, h2BlueDot2, BLUE); dotted(P6, h2RedDot2, RED);
points(P6, saintongeH2, SYM.diamond);
solid(P6, h2Blue, BLUE); solid(P6, h2Red, RED);
drawAxes(P6, massTicks(), logYTicks(P6.ys));
xLabel(P6, massLabel);
yLabel(P6, -40, [{ t: "M", i: 1 }, { t: "H\u2082", s: "sub" }, { t: "/" }, { t: "M", i: 1 }, { t: "\u2217", s: "sub" }]);
zBox(P6, 9, 6, "0");
legendEntry(P6, 118, 17, SYM.diamond, "Saintonge et al. (2017)", { dx: 13 });

// ---------------- panel 7 ----------------
var P7 = makePanel(0, 2, d3.scaleLog().domain([1e-4, 1e-1]).range([PH, 0]), massX);
band(P7, smfBand, BAND);
dotted(P7, smfBlueDot, BLUE); dotted(P7, smfRedDot, RED); dotted(P7, smfRedDot2, RED);
solid(P7, smfBlue, BLUE); solid(P7, smfRed, RED);
points(P7, lejaSmf, SYM.diamond, { ecol: "#444" });
drawAxes(P7, massTicks(), logYTicks(P7.ys));
xLabel(P7, massLabel);
yLabel(P7, -42, [{ t: "d" }, { t: "n", i: 1 }, { t: "(" }, { t: "M", i: 1 }, { t: "\u2217", s: "sub" }, { t: ")/dlog" }, { t: "10", s: "sub" },
  { t: " " }, { t: "M", i: 1 }, { t: "\u2217", s: "sub" }, { t: " [cMpc" }, { t: "\u22123", s: "sup" }, { t: "]" }]);
zBox(P7, 197, 10, "2");
legendEntry(P7, 21, 248, SYM.diamond, "Leja et al. (2020)");

// ---------------- panel 8 ----------------
var P8 = makePanel(1, 2, d3.scaleLog().domain([Math.pow(10, -2.5), Math.pow(10, 0.51)]).range([PH, 0]), massX);
band(P8, ssfr2Band, BAND);
dotted(P8, ssfr2BlueDot, BLUE); dotted(P8, ssfr2RedDot, RED);
dotted(P8, ssfr2BlueDot2, BLUE); dotted(P8, ssfr2RedDot2, RED);
solid(P8, ssfr2Blue, BLUE); solid(P8, ssfr2Red, RED);
points(P8, lejaSsfr, SYM.diamond, { ecol: "#222" });
drawAxes(P8, massTicks(), logYTicks(P8.ys));
xLabel(P8, massLabel);
yLabel(P8, -44, [{ t: "Specific SFR [Gyr" }, { t: "\u22121", s: "sup" }, { t: "]" }]);
zBox(P8, 9, 7, "2");
legendEntry(P8, 82, 247, SYM.diamond, "Leja et al. (2022)");

// ---------------- panel 9 ----------------
var P9 = makePanel(2, 2, d3.scaleLog().domain([1.13e-4, 0.30]).range([PH, 0]), zX);
band(P9, b19True, "#d8d8d8", 0.45);
band(P9, b19True, "url(#horiz)", 1);
band(P9, b19Obs, "url(#vert)", 1);
[b19True, b19Obs].forEach(function(b) {
  P9.plot.append("path").datum(b.map(function(d) { return [d[0], d[1]]; })).attr("d", lineGen(P9)).attr("fill", "none").attr("stroke", "#b5b5b5");
  P9.plot.append("path").datum(b.map(function(d) { return [d[0], d[2]]; })).attr("d", lineGen(P9)).attr("fill", "none").attr("stroke", "#b5b5b5");
});
P9.plot.append("path").datum(md14Z.map(function(z, i) { return [z, md14Sfrd[i]]; })).attr("d", lineGen(P9))
  .attr("fill", "none").attr("stroke", "#111").attr("stroke-width", 1.1).attr("stroke-dasharray", "6,3");
var eo = { ecol: "#222", ew: 1.1, sw: 1 };
points(P9, n17, SYM.circleS, eo);
points(P9, g20, SYM.midDot, { ecol: "#222", ew: 1.1, fill: "#777" });
points(P9, e22, SYM.asterisk, eo);
points(P9, k21, SYM.plus, eo);
points(P9, c23, SYM.circleS, eo);
points(P9, f25, SYM.midDot, { ecol: "#222", ew: 1.1, fill: "#333" });
points(P9, b23, SYM.plus, eo);
points(P9, c25, SYM.starS, { ecol: "#222", ew: 1.1, fill: "#111" });
points(P9, d24, SYM.ellipse, { ecol: "#222", ew: 1.1, fill: "#111" });
points(P9, d12, SYM.diamond, eo);
points(P9, h23, SYM.bigDot, { ecol: "#222", ew: 1.1, fill: "#111" });
solid(P9, sfrdBlue, BLUE, 2.8); solid(P9, sfrdRed, RED, 3);
var zt = { major: sfrdZTicks.map(function(z) { return { x: zX(z), label: z }; }),
           minor: [0.2, 0.6, 0.8, 1.5, 2.5, 8, 10, 12, 13, 15, 16, 17].map(zX) };
drawAxes(P9, zt, logYTicks(P9.ys));
xLabel(P9, [{ t: "Redshift " }, { t: "z", i: 1 }]);
yLabel(P9, -40, [{ t: "SFR density [M" }, { t: "\u2299", s: "sub" }, { t: " yr" }, { t: "\u22121", s: "sup" }, { t: " cMpc" }, { t: "\u22123", s: "sup" }, { t: "]" }]);
var lg = [
  [18, 161, null, "M&D14 [mixed]"], [18, 177, SYM.circleS, "N+17 [radio]"], [18, 193, SYM.midDot, "G+20 [FIR]", "#777"],
  [18, 208, SYM.asterisk, "E+22 [radio]"], [18, 223, SYM.plus, "K+21 [FIR]"], [18, 238, SYM.circleS, "C+23 [radio]"],
  [18, 252, SYM.bigDot, "H+23 [UV]", "#111"],
  [116, 161, SYM.midDot, "F+25 [H\u03b1]", "#333"], [116, 177, SYM.plus, "B+23 [UV]"], [116, 193, SYM.starS, "C+25 [H\u03b1]", "#111"],
  [116, 208, SYM.ellipse, "D+24 [UV]", "#111"], [116, 223, SYM.diamond, "D+12 [FUV]"]];
lg.forEach(function(e) {
  if (e[2] === null) {
    P9.g.append("line").attr("x1", e[0] - 9).attr("x2", e[0] + 9).attr("y1", e[1]).attr("y2", e[1]).attr("stroke", "#111").attr("stroke-dasharray", "6,3");
    P9.g.append("text").attr("x", e[0] + 13).attr("y", e[1] + 3.5).attr("font-size", 10.5).attr("fill", "#444").text(e[3]);
  } else {
    legendEntry(P9, e[0], e[1], e[2], e[3], { fill: e[4] || "none", dx: 13 }, 10.5);
  }
});
[[238, "url(#horiz)", "B+19 [True]"], [252, "url(#vert)", "B+19 [Observed]"]].forEach(function(e) {
  P9.g.append("rect").attr("x", 104).attr("y", e[0] - 5).attr("width", 22).attr("height", 9).attr("fill", "#e4e4e4").attr("stroke", "#aaa");
  P9.g.append("rect").attr("x", 104).attr("y", e[0] - 5).attr("width", 22).attr("height", 9).attr("fill", e[1]);
  P9.g.append("text").attr("x", 129).attr("y", e[0] + 3.5).attr("font-size", 10.5).attr("fill", "#444").text(e[2]);
});
</script>
</body></html>
